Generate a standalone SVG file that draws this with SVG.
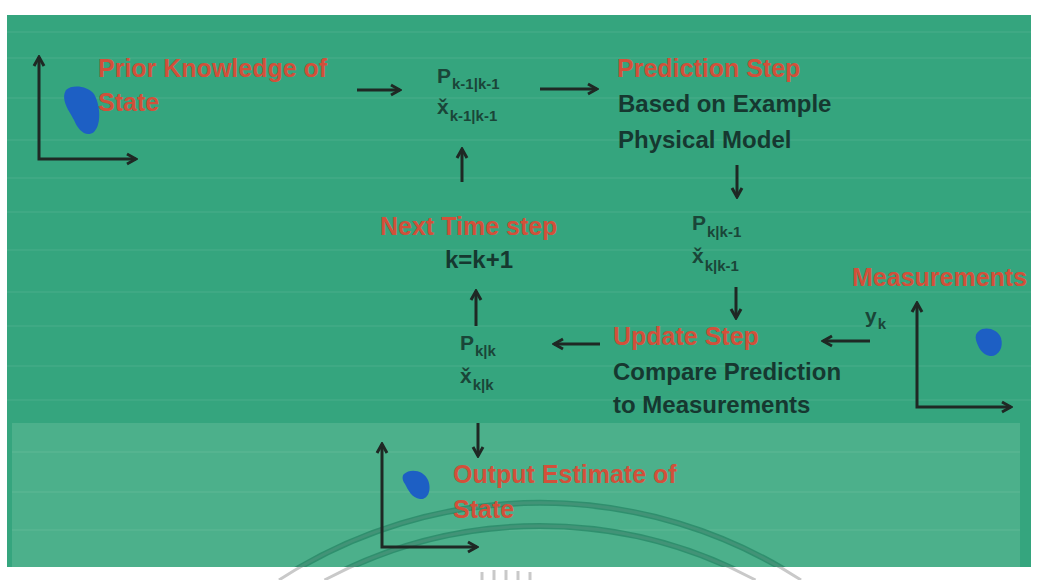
<svg xmlns="http://www.w3.org/2000/svg" width="1044" height="580" viewBox="0 0 1044 580">
<style>
.red{fill:#d2503a;font-family:"Liberation Sans",Arial,sans-serif;font-weight:bold;font-size:25px}
.dark{fill:#163830;font-family:"Liberation Sans",Arial,sans-serif;font-weight:bold;font-size:24px}
.m{fill:#1a4538;font-family:"Liberation Sans",Arial,sans-serif;font-weight:bold;font-size:21px}
.s{fill:#1a4538;font-family:"Liberation Sans",Arial,sans-serif;font-weight:bold;font-size:15px}
.ar{fill:none;stroke:#1f2824;stroke-width:3;marker-end:url(#ah)}
.ax{fill:none;stroke:#1f2824;stroke-width:3;marker-start:url(#ah);marker-end:url(#ah)}
.blob{fill:#1d5fc4}
.stripe{stroke:#ffffff;stroke-opacity:0.05;stroke-width:2}
</style>
<defs>
<marker id="ah" viewBox="0 0 14 14" refX="12" refY="7" markerWidth="14" markerHeight="14" markerUnits="userSpaceOnUse" orient="auto-start-reverse">
<path d="M3,2 L12,7 L3,12" fill="none" stroke="#1f2824" stroke-width="3"/>
</marker>
<clipPath id="panel"><rect x="7" y="15" width="1024" height="552"/></clipPath>
</defs>
<rect width="1044" height="580" fill="#ffffff"/>
<g id="background">
<rect x="7" y="15" width="1024" height="552" fill="#35a57e"/>
<rect x="12" y="423" width="1008" height="144" fill="#4cb08b"/>
<g class="stripe">
<line x1="7" y1="32" x2="1031" y2="32"/><line x1="7" y1="58" x2="1031" y2="58"/>
<line x1="7" y1="98" x2="1031" y2="98"/><line x1="7" y1="140" x2="1031" y2="140"/>
<line x1="7" y1="178" x2="1031" y2="178"/><line x1="7" y1="212" x2="1031" y2="212"/>
<line x1="7" y1="250" x2="1031" y2="250"/><line x1="7" y1="292" x2="1031" y2="292"/>
<line x1="7" y1="326" x2="1031" y2="326"/><line x1="7" y1="366" x2="1031" y2="366"/>
<line x1="7" y1="400" x2="1031" y2="400"/><line x1="12" y1="452" x2="1020" y2="452"/>
<line x1="12" y1="492" x2="1020" y2="492"/><line x1="12" y1="530" x2="1020" y2="530"/>
</g>
<g fill="none" stroke="#c9c9c9" stroke-width="3">
<path d="M279,580 A480,480 0 0 1 801,580"/>
<path d="M324.5,580 A457,457 0 0 1 755.5,580"/>
<path d="M482,572 v8 M494,570 v10 M506,570 v10 M518,571 v9 M530,572 v8"/>
</g>
<g fill="none" stroke="#2a8a68" stroke-width="6" stroke-opacity="0.85" clip-path="url(#panel)">
<path d="M279,580 A480,480 0 0 1 801,580"/>
<path d="M324.5,580 A457,457 0 0 1 755.5,580"/>
</g>
</g>
<g id="prior">
<path class="ax" d="M39,57 L39,159 L136,159"/>
<path class="blob" d="M66,90 C72,84 88,86 94,94 C100,104 102,124 94,132 C86,138 78,130 74,120 C70,112 60,100 66,90Z"/>
<text class="red" x="98" y="77">Prior Knowledge of</text>
<text class="red" x="98" y="111">State</text>
</g>
<g id="state_prev">
<text class="m" x="437" y="83">P<tspan class="s" dx="1" dy="6">k-1|k-1</tspan></text>
<text class="m" x="437" y="114">x&#x30C;<tspan class="s" dx="1" dy="7">k-1|k-1</tspan></text>
</g>
<g id="prediction">
<text class="red" x="617" y="77">Prediction Step</text>
<text class="dark" x="618" y="112">Based on Example</text>
<text class="dark" x="618" y="148">Physical Model</text>
</g>
<g id="state_pred">
<text class="m" x="692" y="230">P<tspan class="s" dx="1" dy="7">k|k-1</tspan></text>
<text class="m" x="692" y="263">x&#x30C;<tspan class="s" dx="1" dy="8">k|k-1</tspan></text>
</g>
<g id="update">
<text class="red" x="613" y="345">Update Step</text>
<text class="dark" x="613" y="380">Compare Prediction</text>
<text class="dark" x="613" y="413">to Measurements</text>
</g>
<g id="measurements">
<text class="red" x="852" y="286">Measurements</text>
<text class="m" x="865" y="323">y<tspan class="s" dx="1" dy="6">k</tspan></text>
<path class="ax" d="M917,303 L917,407 L1011,407"/>
<path class="blob" d="M979,331 C985,326 998,329 1001,338 C1004,348 998,357 990,356 C982,355 978,347 976,340 C975,336 976,333 979,331Z"/>
</g>
<g id="next_time">
<text class="red" x="380" y="235">Next Time step</text>
<text class="dark" x="445" y="268">k=k+1</text>
</g>
<g id="state_post">
<text class="m" x="460" y="350">P<tspan class="s" dx="1" dy="6">k|k</tspan></text>
<text class="m" x="460" y="383">x&#x30C;<tspan class="s" dx="1" dy="7">k|k</tspan></text>
</g>
<g id="output">
<path class="ax" d="M382,444 L382,547 L477,547"/>
<path class="blob" d="M404,474 C410,468 424,470 428,480 C432,490 428,500 420,499 C412,498 408,490 405,484 C402,480 402,476 404,474Z"/>
<text class="red" x="453" y="483">Output Estimate of</text>
<text class="red" x="453" y="518">State</text>
</g>
<g id="connectors">
<path class="ar" d="M357,90 L400,90"/>
<path class="ar" d="M540,89 L597,89"/>
<path class="ar" d="M462,182 L462,149"/>
<path class="ar" d="M737,165 L737,197"/>
<path class="ar" d="M736,287 L736,318"/>
<path class="ar" d="M600,344 L554,344"/>
<path class="ar" d="M870,341 L823,341"/>
<path class="ar" d="M476,326 L476,291"/>
<path class="ar" d="M478,423 L478,456"/>
</g>
</svg>
